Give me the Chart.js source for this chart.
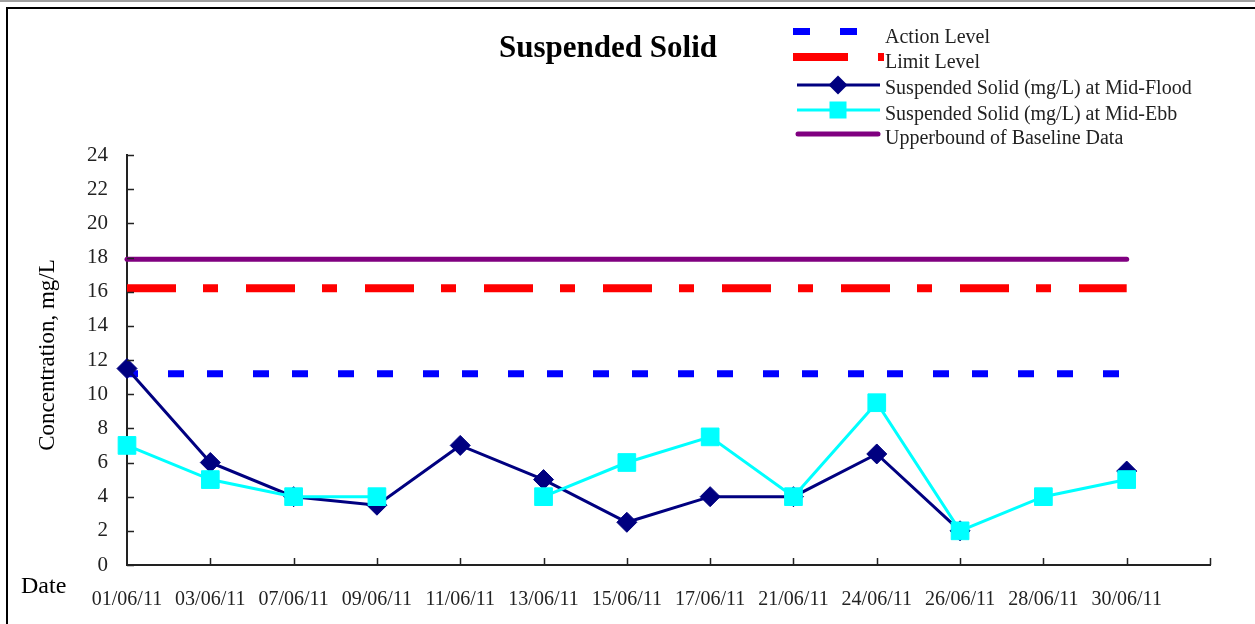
<!DOCTYPE html>
<html><head><meta charset="utf-8">
<script src="https://cdn.jsdelivr.net/npm/chart.js@4.4.1/dist/chart.umd.min.js"></script>
<style>html,body{margin:0;padding:0;background:#fff;overflow:hidden}</style>
</head><body>
<canvas id="c" width="1255" height="624" style="display:block;width:1255px;height:624px"></canvas>
<script>
// ---- data ----
const DATES = ['01/06/11','03/06/11','07/06/11','09/06/11','11/06/11','13/06/11','15/06/11','17/06/11','21/06/11','24/06/11','26/06/11','28/06/11','30/06/11'];
const MID_FLOOD = [11.5, 6, 4, 3.5, 7, 5, 2.5, 4, 4, 6.5, 2, null, 5.5];
const MID_EBB   = [7, 5, 4, 4, null, 4, 6, 7.5, 4, 9.5, 2, 4, 5];
const ACTION_LEVEL = [11.2, 11.2, 11.2, 11.2, 11.2, 11.2, 11.2, 11.2, 11.2, 11.2, 11.2, 11.2, 11.2];
const LIMIT_LEVEL  = [16.2, 16.2, 16.2, 16.2, 16.2, 16.2, 16.2, 16.2, 16.2, 16.2, 16.2, 16.2, 16.2];
const UPPERBOUND   = [17.9, 17.9, 17.9, 17.9, 17.9, 17.9, 17.9, 17.9, 17.9, 17.9, 17.9, 17.9, 17.9];
const Y_MIN = 0, Y_MAX = 24, Y_STEP = 2;
const TITLE = 'Suspended Solid';
const Y_TITLE = 'Concentration, mg/L';
const X_TITLE = 'Date';
const SERIES_NAMES = ['Action Level','Limit Level','Suspended Solid (mg/L) at Mid-Flood','Suspended Solid (mg/L) at Mid-Ebb','Upperbound of Baseline Data'];

const FONT = '"Liberation Serif", "Times New Roman", serif';
Chart.defaults.font.family = FONT;
Chart.defaults.color = '#000';

const labels = DATES.concat(['']); // extra slot so the axis extends one step past the last date

const deco = {
  id: 'deco',
  beforeDraw(chart) {
    const ctx = chart.ctx;
    ctx.save();
    ctx.fillStyle = '#fff';
    ctx.fillRect(0, 0, chart.width, chart.height);
    ctx.strokeStyle = '#a0a0a0'; ctx.lineWidth = 2;
    ctx.beginPath(); ctx.moveTo(0, 1); ctx.lineTo(chart.width, 1); ctx.stroke();
    ctx.strokeStyle = '#000'; ctx.lineWidth = 2;
    ctx.beginPath(); ctx.moveTo(chart.width, 8); ctx.lineTo(7, 8); ctx.lineTo(7, chart.height); ctx.stroke();
    ctx.restore();
  },
  afterDraw(chart) {
    const ctx = chart.ctx;
    const xs = chart.scales.x, ys = chart.scales.y;
    const a = chart.chartArea;
    ctx.save();
    // inward tick marks
    ctx.strokeStyle = '#222'; ctx.lineWidth = 1.5;
    ctx.beginPath();
    ys.ticks.forEach(t => { const py = Math.round(ys.getPixelForValue(t.value)) + 0.5; ctx.moveTo(a.left, py); ctx.lineTo(a.left + 7, py); });
    for (let i = 1; i < labels.length; i++) { const px = Math.round(xs.getPixelForValue(i)) + 0.5; ctx.moveTo(px, a.bottom); ctx.lineTo(px, a.bottom - 7); }
    ctx.stroke();
    // title
    ctx.fillStyle = '#000';
    ctx.font = 'bold 31px ' + FONT;
    ctx.textAlign = 'center'; ctx.textBaseline = 'alphabetic';
    ctx.fillText(TITLE, 608, 57);
    // x title
    ctx.font = '24px ' + FONT;
    ctx.textAlign = 'left';
    ctx.fillText(X_TITLE, 21, 593);
    // y title
    ctx.save();
    ctx.translate(54, 355); ctx.rotate(-Math.PI / 2);
    ctx.font = '23px ' + FONT; ctx.textAlign = 'center';
    ctx.fillText(Y_TITLE, 0, 0);
    ctx.restore();
    // legend
    const ds = chart.data.datasets;
    const rows = [31.5, 57, 85, 110, 134];
    const tx = 885;
    ctx.font = '20px ' + FONT; ctx.textAlign = 'left'; ctx.textBaseline = 'alphabetic';
    // Action
    ctx.save();
    ctx.strokeStyle = ds[0].borderColor; ctx.lineWidth = ds[0].borderWidth; ctx.setLineDash([17, 30]);
    ctx.beginPath(); ctx.moveTo(793, rows[0]); ctx.lineTo(880, rows[0]); ctx.stroke();
    ctx.restore();
    // Limit
    ctx.save();
    ctx.strokeStyle = ds[1].borderColor; ctx.lineWidth = ds[1].borderWidth; ctx.setLineDash([55, 30, 6, 30]);
    ctx.beginPath(); ctx.moveTo(793, rows[1]); ctx.lineTo(884, rows[1]); ctx.stroke();
    ctx.restore();
    // Flood
    ctx.save();
    ctx.strokeStyle = ds[2].borderColor; ctx.lineWidth = ds[2].borderWidth;
    ctx.beginPath(); ctx.moveTo(797, rows[2]); ctx.lineTo(880, rows[2]); ctx.stroke();
    ctx.fillStyle = ds[2].pointBackgroundColor;
    const r = 9.5;
    ctx.beginPath(); ctx.moveTo(838 - r, rows[2]); ctx.lineTo(838, rows[2] - r); ctx.lineTo(838 + r, rows[2]); ctx.lineTo(838, rows[2] + r); ctx.closePath(); ctx.fill();
    ctx.restore();
    // Ebb
    ctx.save();
    ctx.strokeStyle = ds[3].borderColor; ctx.lineWidth = ds[3].borderWidth;
    ctx.beginPath(); ctx.moveTo(797, rows[3]); ctx.lineTo(880, rows[3]); ctx.stroke();
    ctx.fillStyle = ds[3].pointBackgroundColor;
    ctx.fillRect(838 - 8.5, rows[3] - 8.5, 17, 17);
    ctx.restore();
    // Upperbound
    ctx.save();
    ctx.strokeStyle = ds[4].borderColor; ctx.lineWidth = ds[4].borderWidth; ctx.lineCap = 'round';
    ctx.beginPath(); ctx.moveTo(798, rows[4]); ctx.lineTo(878, rows[4]); ctx.stroke();
    ctx.restore();
    ctx.fillStyle = '#222';
    const textBase = [43, 68, 94, 120, 144];
    ds.forEach((d, i) => ctx.fillText(d.label, tx, textBase[i]));
    ctx.restore();
  }
};

new Chart(document.getElementById('c'), {
  type: 'line',
  data: {
    labels: labels,
    datasets: [
      { label: SERIES_NAMES[0], data: ACTION_LEVEL, borderColor: '#0000ff', borderWidth: 7, borderDash: [16, 30, 16, 23], borderDashOffset: 5, borderCapStyle: 'butt', pointRadius: 0, fill: false, tension: 0, order: 2, clip: false },
      { label: SERIES_NAMES[1], data: LIMIT_LEVEL, borderColor: '#ff0000', borderWidth: 8, borderDash: [49, 27, 15, 28], borderDashOffset: 0, borderCapStyle: 'butt', pointRadius: 0, fill: false, tension: 0, order: 3, clip: false },
      { label: SERIES_NAMES[2], data: MID_FLOOD, borderColor: '#000080', borderWidth: 3, pointStyle: 'rectRot', pointRadius: 10, pointHoverRadius: 10, pointBackgroundColor: '#000080', pointBorderColor: '#000080', pointBorderWidth: 1, fill: false, tension: 0, spanGaps: false, order: 1, clip: false },
      { label: SERIES_NAMES[3], data: MID_EBB, borderColor: '#00ffff', borderWidth: 3, pointStyle: 'rect', pointRadius: 12.5, pointHoverRadius: 12.5, pointBackgroundColor: '#00ffff', pointBorderColor: '#00ffff', pointBorderWidth: 1, fill: false, tension: 0, spanGaps: false, order: 0, clip: false },
      { label: SERIES_NAMES[4], data: UPPERBOUND, borderColor: '#800080', borderWidth: 5, borderCapStyle: 'round', pointRadius: 0, fill: false, tension: 0, order: 4, clip: false }
    ]
  },
  options: {
    responsive: false,
    animation: false,
    events: [],
    layout: { padding: { left: 0, right: 45, top: 155, bottom: 0 } },
    plugins: { legend: { display: false }, title: { display: false }, tooltip: { enabled: false } },
    scales: {
      x: {
        type: 'category',
        offset: false,
        grid: { display: false, drawTicks: false },
        border: { display: true, color: '#222', width: 2 },
        ticks: { autoSkip: false, maxRotation: 0, minRotation: 0, padding: 23, color: '#222', font: { size: 20, family: FONT } },
        afterFit(s) { s.height = 59; }
      },
      y: {
        min: Y_MIN, max: Y_MAX,
        grid: { display: false, drawTicks: false },
        border: { display: true, color: '#222', width: 2 },
        ticks: { stepSize: Y_STEP, padding: 19, color: '#222', font: { size: 21, family: FONT } },
        afterFit(s) { s.width = 127; }
      }
    }
  },
  plugins: [deco]
});
</script>
</body></html>
